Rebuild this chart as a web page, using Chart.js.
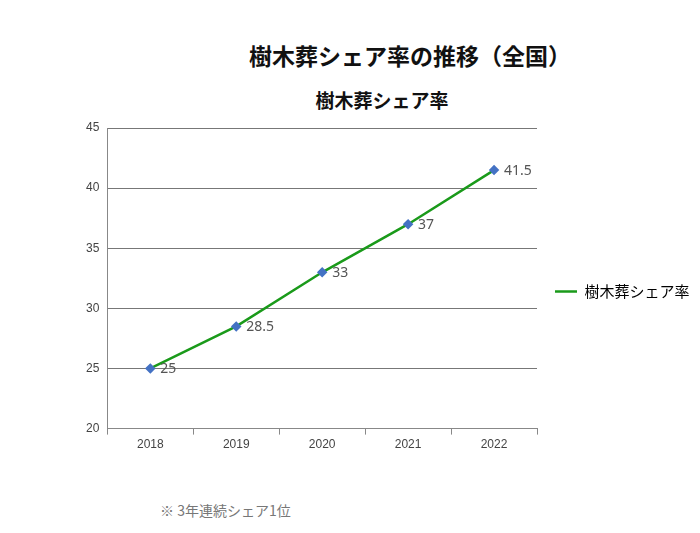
<!DOCTYPE html>
<html><head><meta charset="utf-8">
<script src="https://cdn.jsdelivr.net/npm/chart.js@4"></script>
<style>
body{margin:0;width:700px;height:533px;position:relative;background:#fff;font-family:"Noto Sans CJK JP",sans-serif}
#wrap{position:absolute;left:0;top:0;width:700px;height:533px}
.t{position:absolute;font-weight:bold;color:#111;white-space:nowrap;transform:translateX(-50%)}
</style></head><body>
<div class="t" style="left:410px;top:38px;font-size:23px">樹木葬シェア率の推移（全国）</div>
<div class="t" style="left:382px;top:86px;font-size:19px">樹木葬シェア率</div>
<div style="position:absolute;left:160px;top:500px;font-size:14px;color:#777">※ 3年連続シェア1位</div>
<div id="wrap"><canvas id="c" width="700" height="533"></canvas></div>
<script>
const categories=["2018","2019","2020","2021","2022"];
const shareValues=[25,28.5,33,37,41.5];
const seriesName="樹木葬シェア率";
const labelPlugin={id:'lbl',afterDatasetsDraw(ch){const ctx=ch.ctx;const m=ch.getDatasetMeta(0);ctx.save();ctx.font='14px "Noto Sans", sans-serif';ctx.fillStyle='#555';ctx.textBaseline='middle';m.data.forEach((p,i)=>ctx.fillText(String(shareValues[i]),p.x+10,p.y+1));ctx.restore();}};
new Chart(document.getElementById('c'),{type:'line',
data:{labels:categories,datasets:[{label:seriesName,data:shareValues,borderColor:'#1a9a1a',borderWidth:2.5,backgroundColor:'#4472c4',pointStyle:'rectRot',pointRadius:3.5,pointBorderColor:'#4472c4',tension:0}]},
options:{responsive:false,animation:false,
layout:{padding:{top:128,left:78,bottom:78,right:10}},
plugins:{legend:{position:'right',labels:{font:{size:15,family:'"Noto Sans CJK JP"'},color:'#111',boxWidth:22,boxHeight:2.5,padding:18,generateLabels(ch){return [{text:seriesName,fillStyle:'#1a9a1a',strokeStyle:'#1a9a1a',lineWidth:0,datasetIndex:0}]}}},tooltip:{enabled:false}},
scales:{
x:{offset:true,grid:{drawOnChartArea:false,offset:true,tickLength:6,color:'#888'},border:{color:'#888'},ticks:{color:'#444',font:{size:12}}},
y:{min:20,max:45,ticks:{stepSize:5,color:'#444',font:{size:12},padding:8},grid:{color:'#777',drawTicks:false},border:{color:'#888'}}}},
plugins:[labelPlugin]});
</script></body></html>
